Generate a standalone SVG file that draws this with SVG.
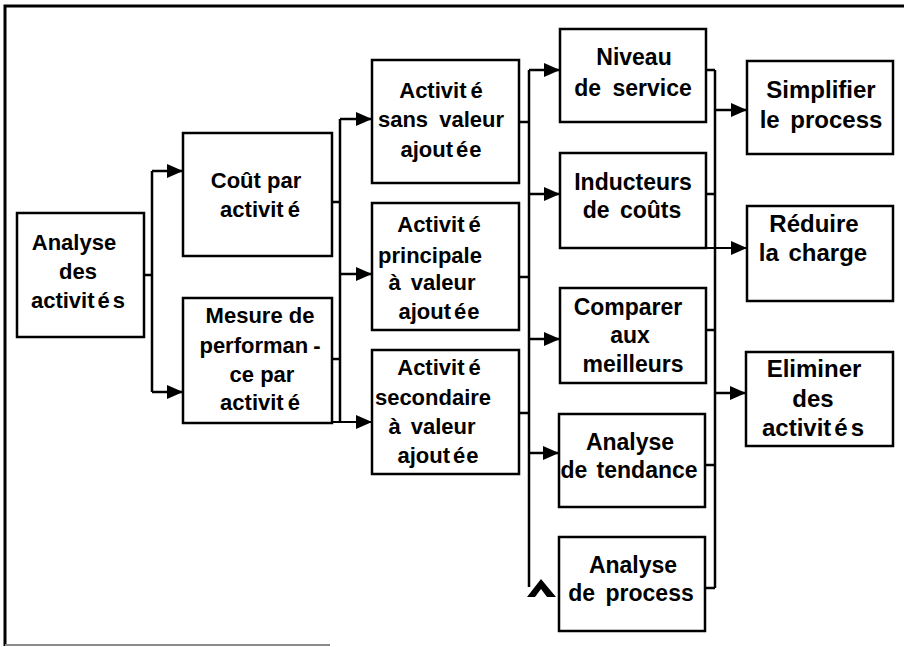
<svg xmlns="http://www.w3.org/2000/svg" width="904" height="647" viewBox="0 0 904 647">
  <style>
    .box { fill: #ffffff; stroke: #000000; stroke-width: 2.5; }
    .t { font-family: "Liberation Sans", Arial, sans-serif; font-weight: bold; fill: #000000; text-anchor: middle; }
    .s22 { font-size: 22px; }
    .s23 { font-size: 23px; }
    .s24 { font-size: 24px; }
    .ln { fill: none; stroke: #000000; stroke-width: 2.5; }
    .ar { fill: none; stroke: #000000; stroke-width: 2.5; marker-end: url(#ah); }
    .thin { stroke-width: 1.8; }
    .frame { fill: none; stroke: #000000; stroke-width: 3; }
  </style>
  <defs>
    <marker id="ah" markerUnits="userSpaceOnUse" markerWidth="17" markerHeight="14" refX="16" refY="7" orient="auto">
      <path d="M0,0 L16,7 L0,14 z" fill="#000000"/>
    </marker>
  </defs>

  <rect x="0" y="0" width="904" height="647" fill="#ffffff"/>

  <g id="frame">
    <path class="frame" d="M5,646 L5,6 L904,6"/>
    <line x1="5" y1="645" x2="330" y2="645" stroke="#8a8a8a" stroke-width="2"/>
  </g>

  <g id="connectors">
    <!-- col1 to col2 -->
    <path class="ln" d="M144,275 H152 M152,171 V392"/>
    <path class="ar" d="M152,171 H183"/>
    <path class="ar" d="M152,392 H183"/>
    <!-- col2 to col3 -->
    <path class="ln" d="M332,202 H340 M332,359 H340 M340,119 V422"/>
    <path class="ar" d="M340,119 H372"/>
    <path class="ar" d="M340,274 H372"/>
    <path class="ar thin" d="M332,422 H372"/>
    <!-- col3 to col4 -->
    <path class="ln" d="M519,122 H529 M519,277 H529 M519,413 H529 M529,70 V587"/>
    <path class="ar" d="M529,70 H560"/>
    <path class="ar" d="M529,194 H560"/>
    <path class="ar" d="M529,339 H560"/>
    <path class="ar" d="M529,453 H559"/>
    <path d="M527,597 L541,579 L556,597 L547,597 L541,589 L535,597 Z" fill="#000000"/>
    <!-- col4 to col5 -->
    <path class="ln" d="M706,70 H715 M706,194 H715 M706,330 H715 M705,465 H715 M705,588 H715 M715,70 V588"/>
    <path class="ar" d="M715,110 H747"/>
    <path class="ar thin" d="M706,248 H747"/>
    <path class="ar" d="M715,393 H746"/>
  </g>

  <g id="n-analyse">
    <rect class="box" x="17" y="213" width="127" height="124"/>
    <text class="t s22" x="74" y="250">Analyse</text>
    <text class="t s22" x="78" y="279">des</text>
    <text class="t s22" x="78" y="308">activit<tspan dx="3">é</tspan><tspan dx="3">s</tspan></text>
  </g>

  <g id="n-cout">
    <rect class="box" x="183" y="133" width="149" height="123"/>
    <text class="t s22" x="256" y="188">Coût par</text>
    <text class="t s22" x="260" y="217">activit<tspan dx="4">é</tspan></text>
  </g>

  <g id="n-mesure">
    <rect class="box" x="183" y="298" width="149" height="125"/>
    <text class="t s22" x="260" y="323">Mesure de</text>
    <text class="t s22" x="260" y="353">performan<tspan dx="5">-</tspan></text>
    <text class="t s22" x="262" y="382">ce par</text>
    <text class="t s22" x="260" y="410">activit<tspan dx="4">é</tspan></text>
  </g>

  <g id="n-sans-valeur">
    <rect class="box" x="372" y="60" width="147" height="123"/>
    <text class="t s22" x="441" y="98">Activit<tspan dx="4">é</tspan></text>
    <text class="t s22" x="441" y="127" word-spacing="5">sans valeur</text>
    <text class="t s22" x="441" y="157">ajout<tspan dx="3">é</tspan><tspan dx="1">e</tspan></text>
  </g>

  <g id="n-principale">
    <rect class="box" x="372" y="203" width="147" height="127"/>
    <text class="t s22" x="439" y="232">Activit<tspan dx="4">é</tspan></text>
    <text class="t s22" x="430" y="263">principale</text>
    <text class="t s22" x="432" y="290" word-spacing="4">à valeur</text>
    <text class="t s22" x="439" y="319">ajout<tspan dx="3">é</tspan><tspan dx="1">e</tspan></text>
  </g>

  <g id="n-secondaire">
    <rect class="box" x="372" y="350" width="147" height="124"/>
    <text class="t s22" x="439" y="375">Activit<tspan dx="4">é</tspan></text>
    <text class="t s22" x="433" y="405">secondaire</text>
    <text class="t s22" x="432" y="434" word-spacing="4">à valeur</text>
    <text class="t s22" x="438" y="463">ajout<tspan dx="3">é</tspan><tspan dx="1">e</tspan></text>
  </g>

  <g id="n-niveau">
    <rect class="box" x="560" y="29" width="146" height="93"/>
    <text class="t s23" x="634" y="65">Niveau</text>
    <text class="t s23" x="633" y="96" word-spacing="5">de service</text>
  </g>

  <g id="n-inducteurs">
    <rect class="box" x="560" y="153" width="146" height="95"/>
    <text class="t s23" x="633" y="190">Inducteurs</text>
    <text class="t s23" x="632" y="218" word-spacing="4">de coûts</text>
  </g>

  <g id="n-comparer">
    <rect class="box" x="560" y="288" width="146" height="95"/>
    <text class="t s23" x="628" y="315">Comparer</text>
    <text class="t s23" x="630" y="343">aux</text>
    <text class="t s23" x="633" y="372">meilleurs</text>
  </g>

  <g id="n-tendance">
    <rect class="box" x="559" y="414" width="146" height="93"/>
    <text class="t s23" x="630" y="450">Analyse</text>
    <text class="t s23" x="629" y="478" word-spacing="3">de tendance</text>
  </g>

  <g id="n-process">
    <rect class="box" x="559" y="537" width="146" height="94"/>
    <text class="t s23" x="633" y="573">Analyse</text>
    <text class="t s23" x="631" y="601" word-spacing="4">de process</text>
  </g>

  <g id="n-simplifier">
    <rect class="box" x="747" y="61" width="146" height="93"/>
    <text class="t s24" x="821" y="98">Simplifier</text>
    <text class="t s24" x="821" y="128" word-spacing="4">le process</text>
  </g>

  <g id="n-reduire">
    <rect class="box" x="747" y="206" width="146" height="95"/>
    <text class="t s24" x="814" y="232">Réduire</text>
    <text class="t s24" x="813" y="261" word-spacing="3">la charge</text>
  </g>

  <g id="n-eliminer">
    <rect class="box" x="746" y="352" width="147" height="94"/>
    <text class="t s24" x="814" y="377">Eliminer</text>
    <text class="t s24" x="813" y="407">des</text>
    <text class="t s24" x="813" y="436">activit<tspan dx="3">é</tspan><tspan dx="3">s</tspan></text>
  </g>
</svg>
